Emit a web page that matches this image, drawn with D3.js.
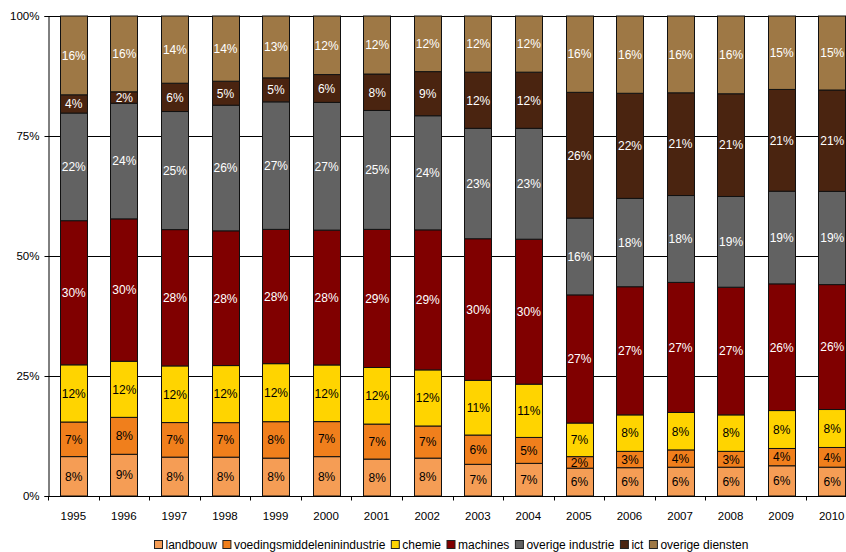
<!DOCTYPE html>
<html>
<head>
<meta charset="utf-8">
<script src="https://cdn.jsdelivr.net/npm/d3@7"></script>
<style>
  html, body { margin: 0; padding: 0; background: #fff; }
  svg { display: block; font-family: "Liberation Sans", Arial, sans-serif; }
</style>
</head>
<body>
<svg id="chart" width="846" height="552"></svg>
<script>
// Share per sector (in %) of each year, 1995-2010
const years = ["1995","1996","1997","1998","1999","2000","2001","2002","2003","2004","2005","2006","2007","2008","2009","2010"];

const landbouw          = [8.2, 8.7, 8.1, 8.1, 7.9, 8.2, 7.7, 7.9, 6.6, 6.8, 5.8, 5.9, 6.0, 6.0, 6.3, 6.0];
const voedingsmiddelen  = [7.2, 7.7, 7.2, 7.2, 7.6, 7.3, 7.3, 6.7, 6.1, 5.4, 2.4, 3.4, 3.6, 3.3, 3.6, 4.1];
const chemie            = [11.9, 11.7, 11.8, 11.9, 12.1, 11.8, 11.8, 11.7, 11.4, 11.1, 7.0, 7.6, 7.8, 7.6, 7.9, 7.9];
const machines          = [30.0, 29.7, 28.4, 28.1, 28.0, 28.1, 28.8, 29.2, 29.5, 30.2, 26.7, 26.7, 27.1, 26.6, 26.4, 26.0];
const overigeIndustrie  = [22.4, 24.1, 24.6, 26.2, 26.6, 26.6, 24.8, 23.8, 23.0, 23.1, 16.0, 18.4, 18.1, 18.9, 19.3, 19.4];
const ict               = [3.8, 2.4, 5.9, 5.0, 5.0, 5.8, 7.6, 9.2, 11.7, 11.7, 26.2, 21.9, 21.4, 21.4, 21.2, 21.1];
const overigeDiensten   = [16.4, 15.8, 14.0, 13.6, 12.9, 12.2, 12.1, 11.6, 11.7, 11.7, 15.9, 16.1, 16.0, 16.2, 15.3, 15.4];

const seriesNames = ["landbouw", "voedingsmiddeleninindustrie", "chemie", "machines", "overige industrie", "ict", "overige diensten"];
const seriesValues = [landbouw, voedingsmiddelen, chemie, machines, overigeIndustrie, ict, overigeDiensten];
const seriesColors = ["#F59D55", "#F07F1C", "#FFD400", "#800000", "#626262", "#4A2410", "#9E7845"];
const labelColors  = ["#000", "#000", "#000", "#fff", "#fff", "#fff", "#fff"];
const yTicks = [0, 0.25, 0.5, 0.75, 1];

(function draw() {
  // Build table rows for the stack layout
  const rows = years.map((yr, i) => {
    const r = { year: yr };
    seriesNames.forEach((n, k) => { r[n] = seriesValues[k][i]; });
    return r;
  });

  const svg = d3.select("#chart");
  const plotLeft = 48, plotRight = 857, plotTop = 16, plotBottom = 496;

  const x = d3.scaleBand().domain(years).range([plotLeft, plotRight]).paddingInner(0.472).paddingOuter(0.236);
  const y = d3.scaleLinear().domain([0, 1]).range([plotBottom, plotTop]);

  const stack = d3.stack().keys(seriesNames).offset(d3.stackOffsetExpand);
  const layers = stack(rows);

  // Horizontal grid lines
  svg.append("g")
    .selectAll("line")
    .data(yTicks.filter(t => t > 0))
    .join("line")
    .attr("x1", plotLeft).attr("x2", 846)
    .attr("y1", d => Math.round(y(d)) + 0.5)
    .attr("y2", d => Math.round(y(d)) + 0.5)
    .attr("stroke", "#000").attr("stroke-width", 1);

  // Stacked bars
  const layerG = svg.append("g")
    .selectAll("g")
    .data(layers)
    .join("g")
    .attr("fill", (d, i) => seriesColors[i]);

  layerG.selectAll("rect")
    .data(d => d)
    .join("rect")
    .attr("x", d => Math.round(x(d.data.year)) + 0.5)
    .attr("y", d => y(d[1]))
    .attr("width", Math.round(x.bandwidth()))
    .attr("height", d => y(d[0]) - y(d[1]))
    .attr("stroke", "#111").attr("stroke-width", 1);

  // Value labels inside the segments
  const fmt = d3.format(".0f");
  layers.forEach((layer, i) => {
    svg.append("g")
      .selectAll("text")
      .data(layer)
      .join("text")
      .attr("x", d => x(d.data.year) + x.bandwidth() / 2 + 0.5)
      .attr("y", d => (y(d[0]) + y(d[1])) / 2)
      .attr("dy", "0.36em")
      .attr("text-anchor", "middle")
      .attr("font-size", "12px")
      .attr("fill", labelColors[i])
      .text(d => fmt(d.data[layer.key]) + "%");
  });

  // Y axis
  const yAxis = svg.append("g")
    .attr("transform", `translate(${plotLeft + 0.5},0)`)
    .call(d3.axisLeft(y).tickValues(yTicks).tickFormat(d3.format(".0%")).tickSize(4).tickPadding(5));
  yAxis.select(".domain").attr("stroke", "#000");
  yAxis.selectAll(".tick line").attr("stroke", "#000");
  yAxis.selectAll("text")
    .attr("font-family", "Liberation Sans, Arial, sans-serif")
    .attr("font-size", "11.5px").attr("fill", "#000");

  // X axis: line along the bottom with ticks between categories
  const xAxis = svg.append("g")
    .attr("transform", `translate(0,${plotBottom + 0.5})`);
  xAxis.append("line")
    .attr("x1", plotLeft).attr("x2", 846)
    .attr("stroke", "#000");
  xAxis.selectAll("line.tick")
    .data(years.map(yr => x(yr) - x.step() * x.paddingInner() / 2).concat([plotRight]))
    .join("line")
    .attr("class", "tick")
    .attr("x1", d => Math.round(d) + 0.5).attr("x2", d => Math.round(d) + 0.5)
    .attr("y1", 0).attr("y2", 4)
    .attr("stroke", "#000");
  xAxis.selectAll("text")
    .data(years)
    .join("text")
    .attr("x", d => x(d) + x.bandwidth() / 2)
    .attr("y", 23)
    .attr("text-anchor", "middle")
    .attr("font-size", "11.5px")
    .attr("fill", "#000")
    .text(d => d);

  // Legend, centred under the plot
  const legend = svg.append("g").attr("transform", "translate(0,545)");
  const items = legend.selectAll("g")
    .data(seriesNames)
    .join("g");
  items.append("rect")
    .attr("width", 8).attr("height", 8)
    .attr("y", -4.5)
    .attr("fill", (d, i) => seriesColors[i])
    .attr("stroke", "#222").attr("stroke-width", 1);
  items.append("text")
    .attr("x", 11)
    .attr("dy", "0.36em")
    .attr("font-size", "12px")
    .attr("fill", "#000")
    .text(d => d);
  const widths = [];
  items.each(function () {
    widths.push(11 + this.querySelector("text").getComputedTextLength());
  });
  const gap = 6;
  const total = d3.sum(widths) + gap * (widths.length - 1);
  let offset = 451 - total / 2;
  items.attr("transform", (d, i) => {
    const t = `translate(${(offset + 0.5).toFixed(1)},0)`;
    offset += widths[i] + gap;
    return t;
  });
})();
</script>
</body>
</html>
